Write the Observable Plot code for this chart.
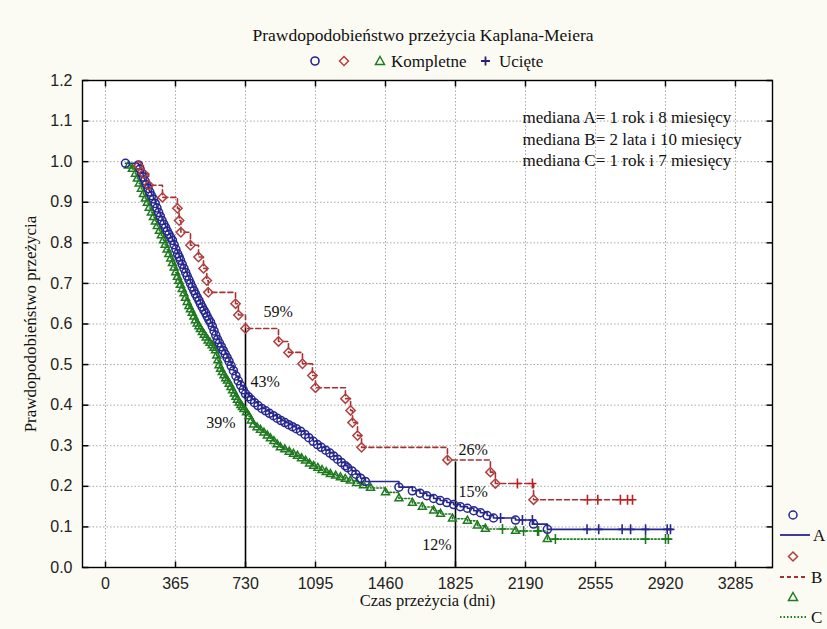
<!DOCTYPE html>
<html><head><meta charset="utf-8">
<script src="https://cdn.jsdelivr.net/npm/d3@7"></script>
<script src="https://cdn.jsdelivr.net/npm/@observablehq/plot@0.6"></script>
<style>
body{margin:0;background:#fcfbf3;}
#wrap{position:relative;width:827px;height:629px;background:#fcfbf3;overflow:hidden;font-family:"Liberation Serif","Times New Roman",serif;color:#111;}
#title{position:absolute;top:25px;left:0;width:846px;text-align:center;font-size:17.5px;}
#chart{position:absolute;left:0;top:70px;}
#overlay{position:absolute;left:0;top:0;}
</style></head><body>
<div id="wrap">
<div id="title">Prawdopodobieństwo przeżycia Kaplana-Meiera</div>
<div id="chart"></div>
<svg id="overlay" width="827" height="629" font-family="Liberation Serif, serif" font-size="17" fill="#111">
  <circle cx="315" cy="61" r="4" fill="none" stroke="#26268f" stroke-width="1.6"/>
  <path d="M344,56.5 L348.5,61 L344,65.5 L339.5,61 Z" fill="none" stroke="#b04040" stroke-width="1.5"/>
  <path d="M380,56.5 L384.5,64.5 L375.5,64.5 Z" fill="none" stroke="#1f7a1f" stroke-width="1.5"/>
  <text x="391" y="67">Kompletne</text>
  <path d="M481,61 H490 M485.5,56.5 V65.5" stroke="#2c1f78" stroke-width="1.8"/>
  <text x="499" y="67">Ucięte</text>
  <circle cx="793" cy="515" r="4" fill="none" stroke="#26268f" stroke-width="1.5"/>
  <line x1="780" x2="810" y1="535" y2="535" stroke="#26268f" stroke-width="1.8"/>
  <text x="813" y="541">A</text>
  <path d="M793,552 L797.5,556.5 L793,561 L788.5,556.5 Z" fill="none" stroke="#b04040" stroke-width="1.5"/>
  <line x1="780" x2="807" y1="577" y2="577" stroke="#a83030" stroke-width="1.8" stroke-dasharray="4,3"/>
  <text x="811" y="583">B</text>
  <path d="M793,592.5 L797.5,600.5 L788.5,600.5 Z" fill="none" stroke="#1f7a1f" stroke-width="1.5"/>
  <line x1="780" x2="807" y1="617" y2="617" stroke="#1f7a1f" stroke-width="1.8" stroke-dasharray="1.5,2"/>
  <text x="811" y="623">C</text>
</svg>
</div>
<script>
// ---- data ----
const xTicks = [0, 365, 730, 1095, 1460, 1825, 2190, 2555, 2920, 3285];
const yTicks = [0, 0.1, 0.2, 0.3, 0.4, 0.5, 0.6, 0.7, 0.8, 0.9, 1.0, 1.1, 1.2];

// Group A (complete events)
const daysA = [104,172,180,188,196,205,213,222,231,240,250,259,268,277,286,295,304,313,322,331,340,349,358,367,376,384,391,400,409,418,426,435,443,452,461,469,478,487,495,504,513,522,530,539,548,557,566,575,584,594,604,614,624,634,644,655,667,680,692,705,718,730,745,760,777,795,815,835,855,875,895,915,935,955,975,995,1017,1040,1060,1083,1105,1125,1148,1170,1189,1210,1230,1250,1262,1285,1305,1330,1355,1530,1600,1640,1675,1711,1745,1780,1815,1850,1887,1920,1955,1990,2023,2138,2232,2304];
const survA = [0.996,0.992,0.982,0.972,0.962,0.953,0.944,0.934,0.925,0.916,0.908,0.897,0.886,0.875,0.865,0.855,0.846,0.838,0.829,0.821,0.813,0.806,0.795,0.784,0.773,0.765,0.757,0.747,0.737,0.727,0.718,0.709,0.700,0.691,0.682,0.674,0.666,0.658,0.650,0.642,0.634,0.627,0.619,0.611,0.604,0.594,0.583,0.572,0.562,0.553,0.544,0.535,0.526,0.517,0.508,0.497,0.485,0.472,0.460,0.449,0.438,0.428,0.421,0.414,0.406,0.399,0.392,0.386,0.380,0.374,0.368,0.362,0.357,0.352,0.347,0.342,0.336,0.328,0.320,0.311,0.303,0.296,0.289,0.282,0.275,0.267,0.259,0.251,0.246,0.238,0.230,0.220,0.212,0.198,0.189,0.183,0.177,0.170,0.165,0.160,0.155,0.150,0.146,0.140,0.135,0.128,0.122,0.117,0.107,0.094];
const censDaysA = [2060,2174,2226,2511,2572,2694,2738,2816,2929,2946];
const censSurvA = [0.122,0.117,0.117,0.094,0.094,0.094,0.094,0.094,0.094,0.094];
const endA = 2956;

// Group B
const daysB = [172,198,225,297,375,384,393,443,485,511,528,536,678,693,730,902,954,1027,1079,1095,1251,1278,1288,1314,1335,1783,2007,2033,2232];
const survB = [0.99,0.971,0.942,0.912,0.885,0.855,0.826,0.794,0.765,0.737,0.707,0.678,0.650,0.622,0.589,0.557,0.530,0.502,0.473,0.443,0.416,0.387,0.357,0.325,0.296,0.265,0.235,0.207,0.167];
const censDaysB = [2148,2226,2513,2567,2685,2722,2748];
const censSurvB = [0.207,0.207,0.167,0.167,0.167,0.167,0.167];
const endB = 2763;

// Group C
const daysC = [120,140,156,166,176,187,198,208,218,228,239,250,260,270,281,291,302,311,321,330,340,349,358,366,375,383,391,400,409,417,426,435,443,452,461,469,478,487,495,505,515,525,535,545,556,566,574,580,586,592,600,609,618,627,636,645,654,663,672,680,688,697,706,714,722,735,748,760,772,790,808,826,844,860,878,895,912,935,958,980,1001,1022,1043,1064,1085,1107,1129,1151,1173,1200,1225,1250,1277,1310,1345,1382,1460,1530,1600,1652,1711,1747,1809,1887,1939,1981,2138,2304];
const survC = [0.990,0.982,0.970,0.958,0.946,0.933,0.920,0.909,0.898,0.886,0.874,0.863,0.852,0.841,0.829,0.818,0.806,0.795,0.783,0.772,0.761,0.750,0.739,0.727,0.716,0.706,0.696,0.686,0.675,0.664,0.654,0.644,0.636,0.627,0.618,0.609,0.601,0.594,0.587,0.580,0.573,0.566,0.559,0.553,0.547,0.541,0.535,0.522,0.510,0.498,0.489,0.481,0.473,0.466,0.460,0.452,0.444,0.436,0.428,0.420,0.413,0.406,0.400,0.395,0.390,0.382,0.372,0.362,0.352,0.345,0.339,0.332,0.325,0.318,0.311,0.303,0.296,0.291,0.285,0.280,0.275,0.269,0.263,0.256,0.250,0.245,0.240,0.235,0.230,0.226,0.222,0.218,0.214,0.208,0.202,0.196,0.185,0.170,0.159,0.149,0.140,0.132,0.120,0.115,0.103,0.095,0.090,0.070];
const censDaysC = [2070,2180,2253,2258,2346,2816,2920,2935];
const censSurvC = [0.095,0.090,0.090,0.090,0.070,0.070,0.070,0.070];
const endC = 2950;

// medians & percentage labels
const medianDays = [730, 1825];
const medianTops = [0.59, 0.26];
const pctDays = [730, 730, 730, 1825, 1825, 1825];
const pctVals = [0.59, 0.43, 0.39, 0.26, 0.15, 0.12];
const pctText = ["59%", "43%", "39%", "26%", "15%", "12%"];
const medianNote = ["mediana A= 1 rok i 8 miesięcy", "mediana B= 2 lata i 10 miesięcy", "mediana C= 1 rok i 7 miesięcy"];

// ---- build ----
const col = {A: "#26268f", B: "#a83030", C: "#1f7a1f"};
function pts(days, surv) { return days.map((d, i) => ({day: d, s: surv[i]})); }
function stepLine(days, surv, cd, cs, end) {
  const p = pts(days, surv).concat(pts(cd, cs)).sort((a, b) => a.day - b.day);
  p.push({day: end, s: p[p.length - 1].s});
  return p;
}
const evA = pts(daysA, survA), evB = pts(daysB, survB), evC = pts(daysC, survC);
const cA = pts(censDaysA, censSurvA), cB = pts(censDaysB, censSurvB), cC = pts(censDaysC, censSurvC);
const lA = stepLine(daysA, survA, censDaysA, censSurvA, endA);
const lB = stepLine(daysB, survB, censDaysB, censSurvB, endB);
const lC = stepLine(daysC, survC, censDaysC, censSurvC, endC);

const plusSym = {draw(c) { c.moveTo(-4, 0); c.lineTo(4, 0); c.moveTo(0, -5); c.lineTo(0, 5); }};
const tkL = {draw(c) { c.moveTo(0, 0); c.lineTo(6, 0); }};
const tkR = {draw(c) { c.moveTo(0, 0); c.lineTo(-6, 0); }};
const tkB = {draw(c) { c.moveTo(0, 0); c.lineTo(0, -6); }};
const tkT = {draw(c) { c.moveTo(0, 0); c.lineTo(0, 6); }};

const serif = "Liberation Serif, Times New Roman, serif";
const pctOffsets = [
  {textAnchor: "start", dx: 18, dy: -16},
  {textAnchor: "start", dx: 5, dy: -11},
  {textAnchor: "end", dx: -10, dy: 14},
  {textAnchor: "start", dx: 3, dy: -12},
  {textAnchor: "start", dx: 3, dy: -15},
  {textAnchor: "end", dx: -4, dy: 26}
];
const pctMarks = pctText.map((t, i) => Plot.text([{day: pctDays[i], s: pctVals[i], t}], {
  x: "day", y: "s", text: "t", fontSize: 16, fontFamily: serif, fill: "#111", ...pctOffsets[i]
}));

const chart = Plot.plot({
  width: 827, height: 559,
  marginLeft: 82, marginRight: 55, marginTop: 10, marginBottom: 62,
  style: {background: "transparent", fontFamily: "Liberation Sans, Arial, sans-serif"},
  x: {domain: [-120, 3478]},
  y: {domain: [0, 1.2]},
  marks: [
    Plot.frame({fill: "white", stroke: "none"}),
    Plot.gridX(xTicks, {stroke: "#a8a8a8", strokeOpacity: 1, strokeDasharray: "1.5,2"}),
    Plot.gridY(yTicks, {stroke: "#a8a8a8", strokeOpacity: 1, strokeDasharray: "1.5,2"}),
    Plot.axisX(xTicks, {tickSize: 0, tickPadding: 10, fontSize: 16, fill: "#222", tickFormat: d => String(d), label: null}),
    Plot.axisY(yTicks, {tickSize: 0, tickPadding: 10, fontSize: 16, fill: "#222", tickFormat: d3.format(".1f"), label: null}),
    Plot.dot(yTicks, {y: d => d, frameAnchor: "left", symbol: tkL, stroke: "black", fill: "none"}),
    Plot.dot(yTicks, {y: d => d, frameAnchor: "right", symbol: tkR, stroke: "black", fill: "none"}),
    Plot.dot(xTicks, {x: d => d, frameAnchor: "bottom", symbol: tkB, stroke: "black", fill: "none"}),
    Plot.dot(xTicks, {x: d => d, frameAnchor: "top", symbol: tkT, stroke: "black", fill: "none"}),
    Plot.ruleX(medianDays.map((d, i) => ({day: d, top: medianTops[i]})), {x: "day", y1: 0, y2: "top", stroke: "black", strokeWidth: 1.6}),
    Plot.line(lC, {x: "day", y: "s", curve: "step-after", stroke: col.C, strokeWidth: 1.6, strokeDasharray: "1.5,2"}),
    Plot.line(lA, {x: "day", y: "s", curve: "step-after", stroke: col.A, strokeWidth: 1.6}),
    Plot.line(lB, {x: "day", y: "s", curve: "step-after", stroke: col.B, strokeWidth: 1.6, strokeDasharray: "5,3"}),
    Plot.dot(evC, {x: "day", y: "s", symbol: "triangle2", r: 3.8, stroke: col.C, strokeWidth: 1.5, fill: "none"}),
    Plot.dot(evA, {x: "day", y: "s", symbol: "circle", r: 4, stroke: col.A, strokeWidth: 1.5, fill: "none"}),
    Plot.dot(evB, {x: "day", y: "s", symbol: "diamond2", r: 4.2, stroke: "#b04040", strokeWidth: 1.5, fill: "none"}),
    Plot.dot(cC, {x: "day", y: "s", symbol: plusSym, stroke: col.C, strokeWidth: 1.6, fill: "none"}),
    Plot.dot(cA, {x: "day", y: "s", symbol: plusSym, stroke: col.A, strokeWidth: 1.6, fill: "none"}),
    Plot.dot(cB, {x: "day", y: "s", symbol: plusSym, stroke: "#c02020", strokeWidth: 1.6, fill: "none"}),
    ...pctMarks,
    Plot.text([medianNote.join("\n")], {frameAnchor: "top-left", dx: 440, dy: 27, textAnchor: "start", lineAnchor: "top", lineHeight: 1.28, fontSize: 17, fontFamily: serif, fill: "#111"}),
    Plot.text(["Prawdopodobieństwo przeżycia"], {frameAnchor: "left", dx: -52, rotate: -90, textAnchor: "middle", fontSize: 17, fontFamily: serif, fill: "#111", style: "letter-spacing:0.6px"}),
    Plot.text(["Czas przeżycia (dni)"], {frameAnchor: "bottom", dy: 38, textAnchor: "middle", fontSize: 16.5, fontFamily: serif, fill: "#111"}),
    Plot.frame({stroke: "black", strokeWidth: 1.4})
  ]
});
document.getElementById("chart").appendChild(chart);
</script>
</body></html>
